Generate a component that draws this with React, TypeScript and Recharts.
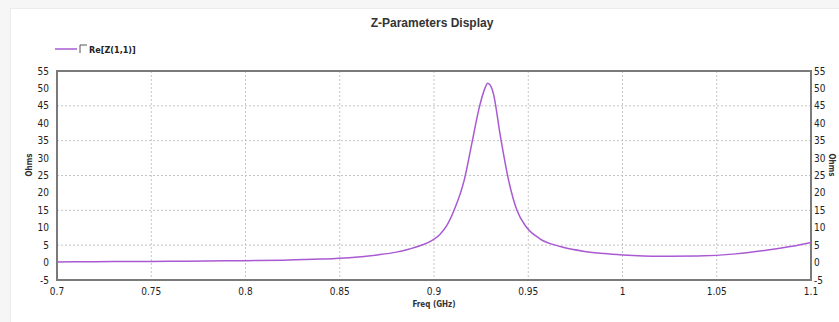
import React from 'react';
import { LineChart, Line, XAxis, YAxis, CartesianGrid, ReferenceArea } from 'recharts';

// Re[Z(1,1)] in Ohms
const freqGHz = [
    0.7, 0.72, 0.74, 0.76, 0.78, 0.8, 0.82, 0.84, 0.855, 0.87, 0.88, 0.887, 0.894, 0.899, 0.903, 0.907,
    0.911, 0.916, 0.92, 0.924, 0.927, 0.9285, 0.93, 0.9316, 0.935, 0.9396, 0.944, 0.949, 0.956, 0.967,
    0.98, 0.99, 1.0, 1.02, 1.04, 1.06, 1.077, 1.09, 1.1,
];
const reZ11 = [
    0.2, 0.25, 0.3, 0.35, 0.45, 0.55, 0.7, 1.0, 1.4, 2.2, 3.0, 3.9, 5.1, 6.4, 8.0, 10.8,
    15.5, 23.6, 34, 44.5, 50, 51.5, 50.8, 48.3, 37, 23.6, 15, 10.2, 6.9, 4.6,
    3.2, 2.6, 2.2, 1.8, 1.9, 2.5, 3.6, 4.7, 5.8,
];
const xTicks = [0.7, 0.75, 0.8, 0.85, 0.9, 0.95, 1, 1.05, 1.1];
const yTicks = [-5, 0, 5, 10, 15, 20, 25, 30, 35, 40, 45, 50, 55];

const data = freqGHz.map((f, i) => ({ freq: f, re: reZ11[i] }));

const FONT = '"Liberation Sans Narrow", "DejaVu Sans Condensed", "Liberation Sans", Arial, sans-serif';
const TRACE = '#a95ad2';
const tickStyle = { fontSize: 10, fill: '#222', fontFamily: FONT };

export default function App() {
    return (
        <div style={{ position: 'absolute', left: 0, top: 0, width: 839, height: 322, background: '#f6f6f6', overflow: 'hidden' }}>
            <div style={{ position: 'absolute', left: 10, top: 8, right: -2, bottom: -2, background: '#fff', border: '1px solid #ececec' }} />
            <div style={{ position: 'absolute', left: 0, top: 0 }}>
                <LineChart width={839} height={322} data={data} margin={{ top: 71, right: 8, bottom: 12, left: 17 }}>
                    <text x={432} y={27} textAnchor="middle" fontSize={12} fontWeight="bold" fill="#333" fontFamily='"Liberation Sans", Arial, sans-serif'>
                        Z-Parameters Display
                    </text>
                    {/* legend */}
                    <line x1={55} y1={49} x2={77} y2={49} stroke={TRACE} strokeWidth={1.5} />
                    <polyline points="80,53 80,45 87,45" fill="none" stroke="#555" strokeWidth={1} />
                    <text x={89} y={52.5} fontSize={9} fontWeight="bold" fill="#222" fontFamily={FONT}>
                        Re[Z(1,1)]
                    </text>
                    <text x={0} y={0} transform="translate(32,165) rotate(-90)" textAnchor="middle" fontSize={8} fontWeight="bold" fill="#333" fontFamily={FONT}>
                        Ohms
                    </text>
                    <text x={0} y={0} transform="translate(829,165) rotate(90)" textAnchor="middle" fontSize={8} fontWeight="bold" fill="#333" fontFamily={FONT}>
                        Ohms
                    </text>
                    <CartesianGrid yAxisId="left" stroke="#c4c4c4" strokeDasharray="2 2" verticalValues={xTicks} horizontalValues={yTicks} />
                    <XAxis
                        dataKey="freq"
                        type="number"
                        domain={[0.7, 1.1]}
                        ticks={xTicks}
                        allowDataOverflow
                        axisLine={false}
                        tickLine={false}
                        tickSize={6}
                        tickMargin={2}
                        height={30}
                        tick={tickStyle}
                        label={{ value: 'Freq (GHz)', position: 'insideBottom', offset: 3, fontSize: 8, fontWeight: 'bold', fill: '#333', fontFamily: FONT }}
                    />
                    <YAxis
                        yAxisId="left"
                        orientation="left"
                        type="number"
                        domain={[-5, 55]}
                        allowDataOverflow
                        ticks={yTicks}
                        width={40}
                        axisLine={false}
                        tickLine={false}
                        tickSize={6}
                        tickMargin={2}
                        tick={tickStyle}
                    />
                    <YAxis
                        yAxisId="right"
                        orientation="right"
                        type="number"
                        domain={[-5, 55]}
                        allowDataOverflow
                        ticks={yTicks}
                        width={20}
                        axisLine={false}
                        tickLine={false}
                        tickSize={1}
                        tickMargin={2}
                        tick={tickStyle}
                    />
                    <ReferenceArea yAxisId="left" x1={0.7} x2={1.1} y1={-5} y2={55} fill="none" stroke="#7a7a7a" strokeWidth={2} ifOverflow="visible" />
                    <Line yAxisId="right" dataKey="re" stroke="none" dot={false} activeDot={false} isAnimationActive={false} />
                    <Line
                        yAxisId="left"
                        dataKey="re"
                        type="monotone"
                        stroke={TRACE}
                        strokeWidth={1.5}
                        dot={false}
                        isAnimationActive={false}
                    />
                </LineChart>
            </div>
        </div>
    );
}
